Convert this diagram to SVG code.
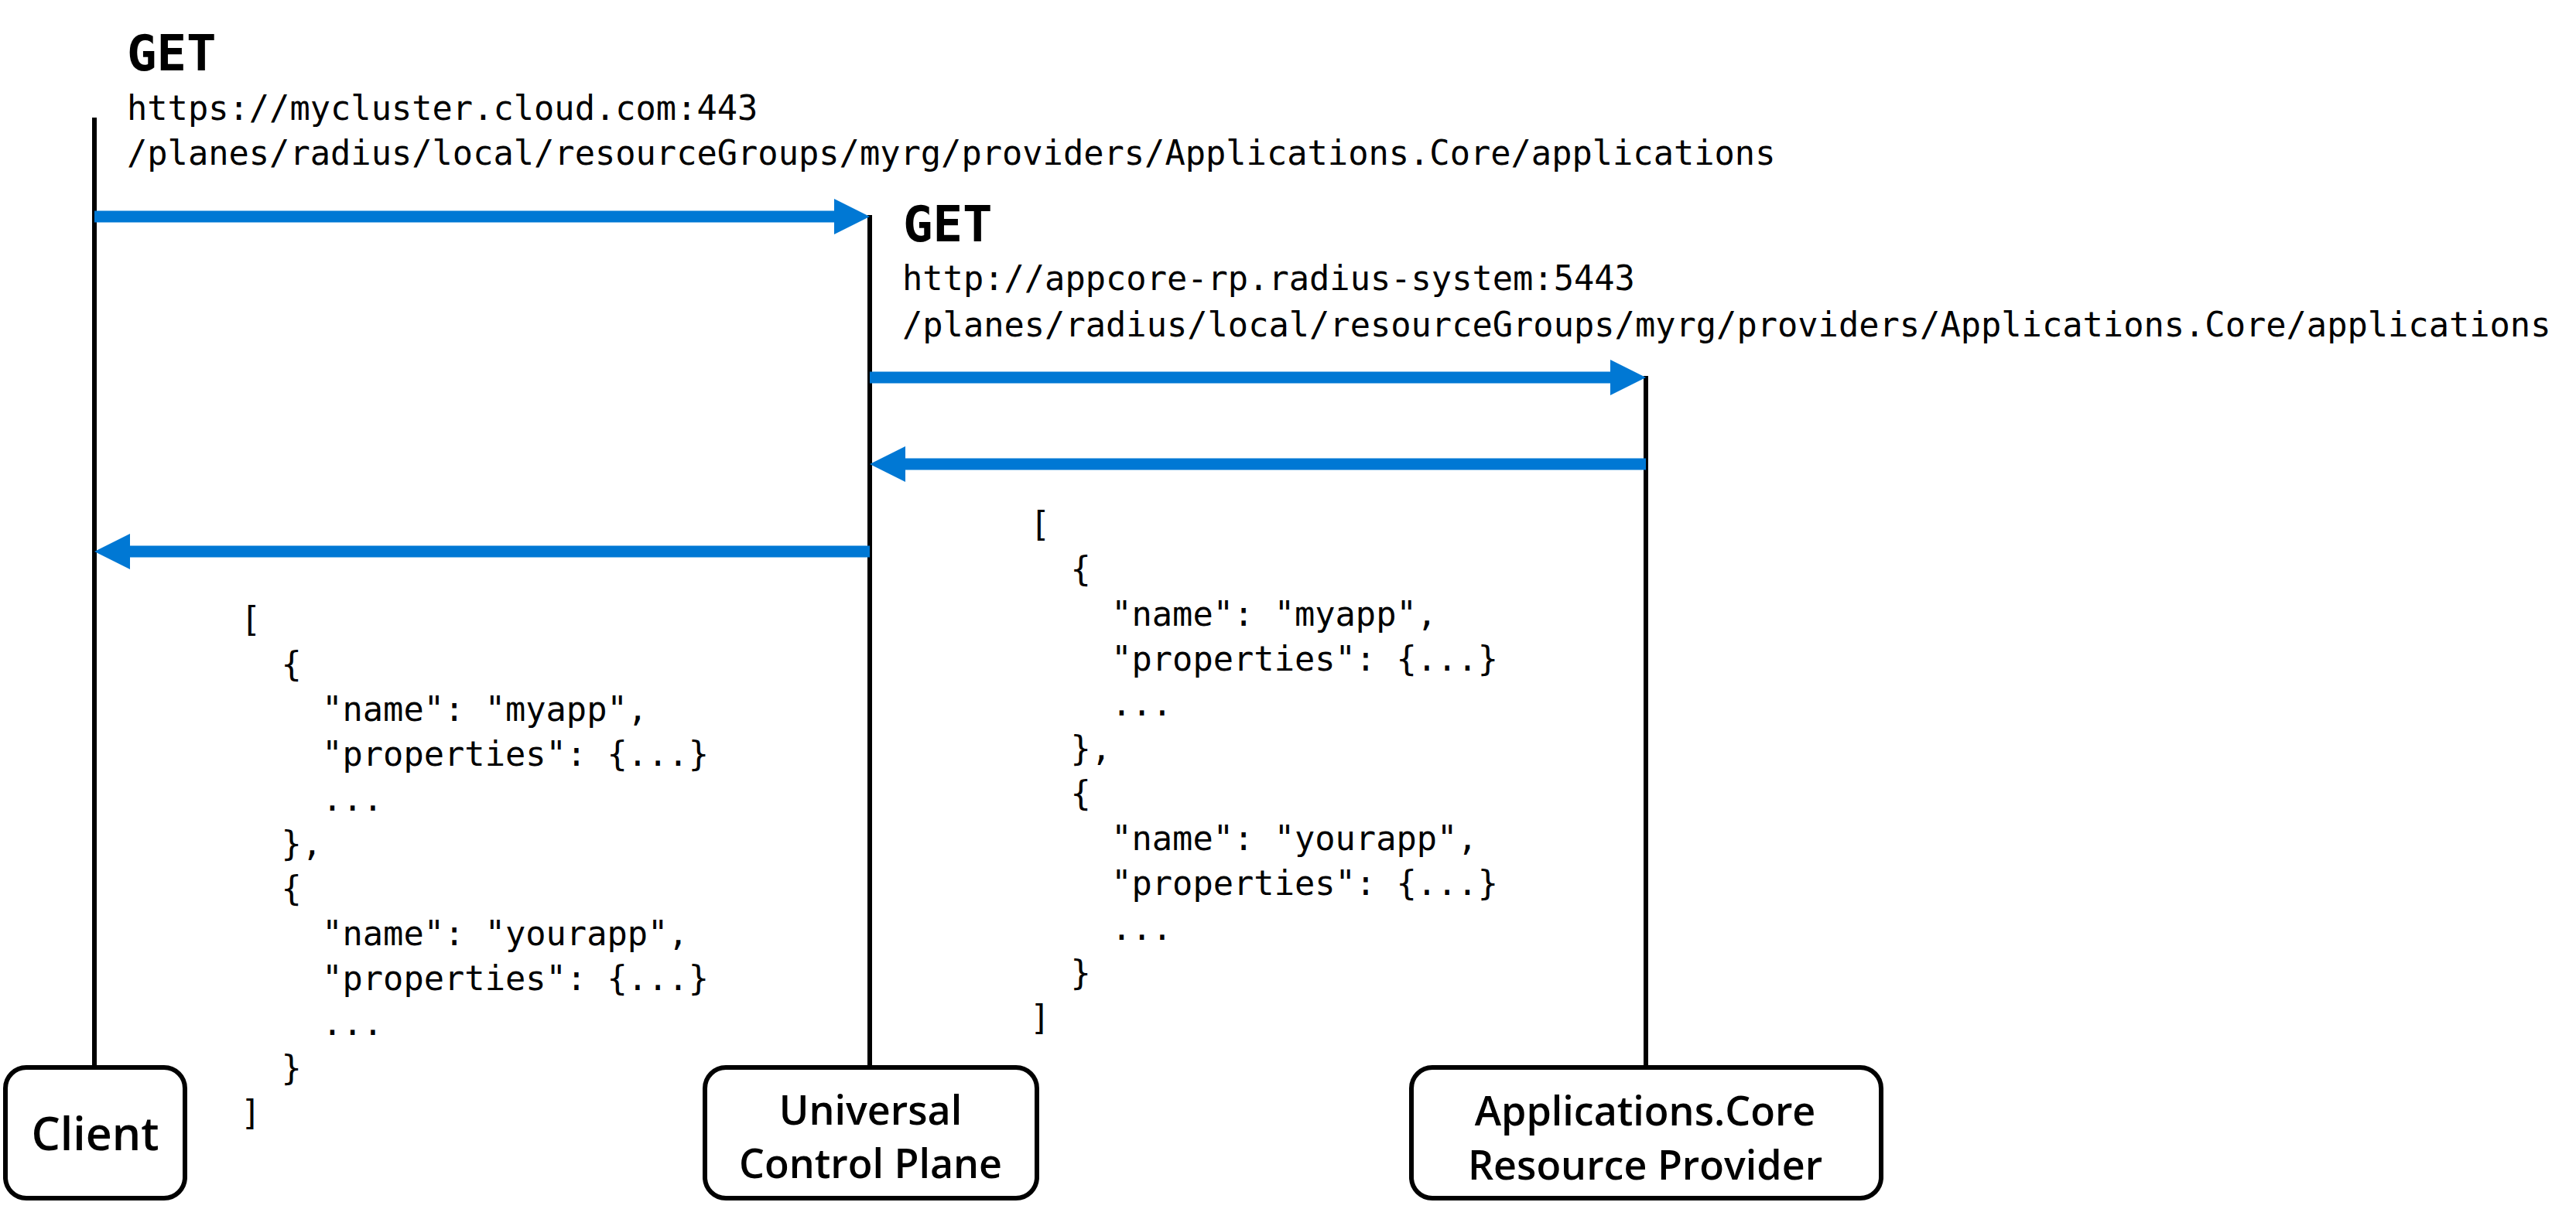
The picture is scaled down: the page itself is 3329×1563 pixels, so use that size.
<svg xmlns="http://www.w3.org/2000/svg" width="3329" height="1563" viewBox="0 0 3329 1563">
<style>
.mono{font-family:"DejaVu Sans Mono","Liberation Mono",monospace;font-size:43.7px;fill:#000;white-space:pre}
.get{font-family:"DejaVu Sans Mono","Liberation Mono",monospace;font-size:64px;font-weight:bold;fill:#000}
.life{stroke:#000;stroke-width:6;fill:none}
.box{fill:#fff;stroke:#000;stroke-width:6}
.lbl{font-family:"Open Sans","Noto Sans",sans-serif;font-weight:600;font-size:52px;fill:#000;text-anchor:middle}
.arr{stroke:#0078D4;stroke-width:15;fill:none;marker-end:url(#ah)}
</style>
<defs>
<marker id="ah" viewBox="0 0 46 46" refX="0" refY="23" markerWidth="46" markerHeight="46" markerUnits="userSpaceOnUse" orient="auto">
<path d="M0,0 L46,23 L0,46 Z" fill="#0078D4"/>
</marker>
</defs>
<rect width="3329" height="1563" fill="#fff"/>
<g id="lifelines">
<line class="life" x1="122" y1="152" x2="122" y2="1380"/>
<line class="life" x1="1124" y1="278" x2="1124" y2="1380"/>
<line class="life" x1="2127" y1="486" x2="2127" y2="1380"/>
</g>
<g id="connectors">
<line class="arr" x1="122" y1="280" x2="1078" y2="280"/>
<line class="arr" x1="1124" y1="488" x2="2081" y2="488"/>
<line class="arr" x1="2127" y1="600" x2="1170" y2="600"/>
<line class="arr" x1="1124" y1="713" x2="168" y2="713"/>
</g>
<g id="request1">
<text class="get" x="164" y="91">GET</text>
<text class="mono" x="164" y="155">https://mycluster.cloud.com:443</text>
<text class="mono" x="164" y="213">/planes/radius/local/resourceGroups/myrg/providers/Applications.Core/applications</text>
</g>
<g id="request2">
<text class="get" x="1167" y="312">GET</text>
<text class="mono" x="1166" y="375">http://appcore-rp.radius-system:5443</text>
<text class="mono" x="1166" y="435">/planes/radius/local/resourceGroups/myrg/providers/Applications.Core/applications</text>
</g>
<g id="response-rp">
<text class="mono" x="1331" y="693">[</text>
<text class="mono" x="1331" y="751">  {</text>
<text class="mono" x="1331" y="809">    "name": "myapp",</text>
<text class="mono" x="1331" y="867">    "properties": {...}</text>
<text class="mono" x="1331" y="925">    ...</text>
<text class="mono" x="1331" y="983">  },</text>
<text class="mono" x="1331" y="1041">  {</text>
<text class="mono" x="1331" y="1099">    "name": "yourapp",</text>
<text class="mono" x="1331" y="1157">    "properties": {...}</text>
<text class="mono" x="1331" y="1215">    ...</text>
<text class="mono" x="1331" y="1273">  }</text>
<text class="mono" x="1331" y="1331">]</text>
</g>
<g id="response-ucp">
<text class="mono" x="311" y="816">[</text>
<text class="mono" x="311" y="874">  {</text>
<text class="mono" x="311" y="932">    "name": "myapp",</text>
<text class="mono" x="311" y="990">    "properties": {...}</text>
<text class="mono" x="311" y="1048">    ...</text>
<text class="mono" x="311" y="1106">  },</text>
<text class="mono" x="311" y="1164">  {</text>
<text class="mono" x="311" y="1222">    "name": "yourapp",</text>
<text class="mono" x="311" y="1280">    "properties": {...}</text>
<text class="mono" x="311" y="1338">    ...</text>
<text class="mono" x="311" y="1396">  }</text>
<text class="mono" x="311" y="1454">]</text>
</g>
<g id="client">
<rect class="box" x="7" y="1380" width="232" height="169" rx="27"/>
<text class="lbl" x="123" y="1487" style="font-size:59px">Client</text>
</g>
<g id="ucp">
<rect class="box" x="911" y="1380" width="429" height="169" rx="27"/>
<text class="lbl" x="1125" y="1454">Universal</text>
<text class="lbl" x="1125" y="1523">Control Plane</text>
</g>
<g id="rp">
<rect class="box" x="1824" y="1380" width="607" height="169" rx="27"/>
<text class="lbl" x="2126" y="1455">Applications.Core</text>
<text class="lbl" x="2126" y="1525">Resource Provider</text>
</g>
</svg>
